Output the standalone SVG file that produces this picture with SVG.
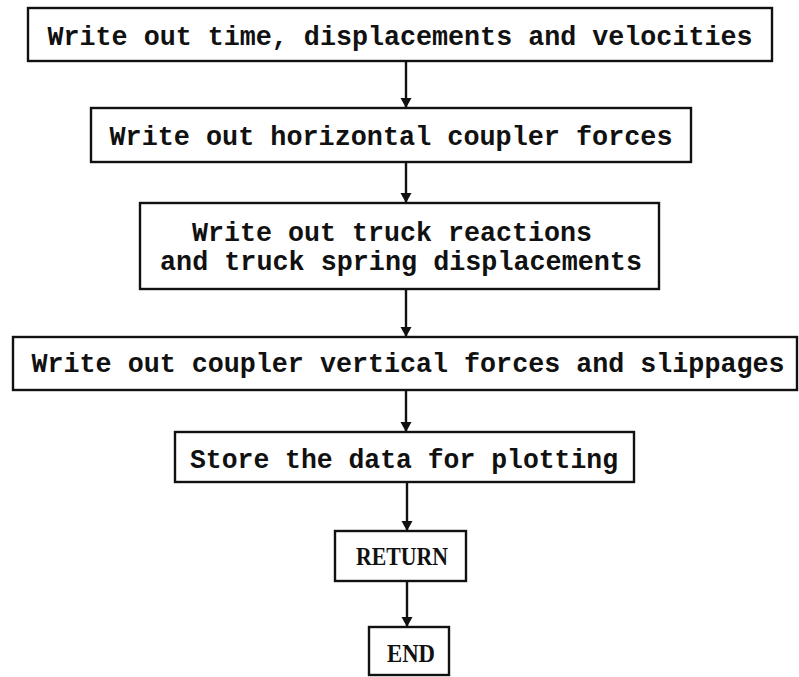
<svg xmlns="http://www.w3.org/2000/svg" width="799" height="677" viewBox="0 0 799 677">
<defs>
<marker id="ah" viewBox="0 0 10 12" refX="10" refY="6" markerWidth="10" markerHeight="12" markerUnits="userSpaceOnUse" orient="auto">
<path d="M0,0.5 L10,6 L0,11.5 Z" fill="#111"/>
</marker>
<style>
.box{fill:#fff;stroke:#111;stroke-width:2.4}
.t{font-family:"Liberation Mono","DejaVu Sans Mono",monospace;font-weight:bold;font-size:27px;fill:#111;text-anchor:middle}
.s{font-family:"Liberation Serif","DejaVu Serif",serif;font-weight:bold;font-size:26px;fill:#111;text-anchor:middle}
.c{stroke:#111;stroke-width:2.4;fill:none;marker-end:url(#ah)}
</style>
</defs>
<rect width="799" height="677" fill="#fff"/>
<g id="connectors">
<line class="c" x1="406" y1="61" x2="406" y2="108"/>
<line class="c" x1="406" y1="162" x2="406" y2="203"/>
<line class="c" x1="406" y1="289" x2="406" y2="337"/>
<line class="c" x1="406" y1="390" x2="406" y2="432"/>
<line class="c" x1="407" y1="482" x2="407" y2="531"/>
<line class="c" x1="407" y1="581" x2="407" y2="627"/>
</g>
<g id="n1">
<rect class="box" x="28" y="8" width="744" height="53"/>
<text class="t" x="400" y="45" textLength="705" lengthAdjust="spacingAndGlyphs">Write out time, displacements and velocities</text>
</g>
<g id="n2">
<rect class="box" x="91" y="108" width="600" height="54"/>
<text class="t" x="391" y="145" textLength="563" lengthAdjust="spacingAndGlyphs">Write out horizontal coupler forces</text>
</g>
<g id="n3">
<rect class="box" x="140" y="203" width="519" height="86"/>
<text class="t" x="392" y="241" textLength="400" lengthAdjust="spacingAndGlyphs">Write out truck reactions</text>
<text class="t" x="401" y="270" textLength="482" lengthAdjust="spacingAndGlyphs">and truck spring displacements</text>
</g>
<g id="n4">
<rect class="box" x="13" y="337" width="784" height="53"/>
<text class="t" x="408" y="372" textLength="753" lengthAdjust="spacingAndGlyphs">Write out coupler vertical forces and slippages</text>
</g>
<g id="n5">
<rect class="box" x="175" y="432" width="459" height="50"/>
<text class="t" x="404" y="468" textLength="428" lengthAdjust="spacingAndGlyphs">Store the data for plotting</text>
</g>
<g id="n6">
<rect class="box" x="335" y="531" width="131" height="50"/>
<text class="s" x="402" y="565" textLength="92" lengthAdjust="spacingAndGlyphs">RETURN</text>
</g>
<g id="n7">
<rect class="box" x="369" y="627" width="80" height="48"/>
<text class="s" x="411" y="662" textLength="48" lengthAdjust="spacingAndGlyphs">END</text>
</g>
</svg>
